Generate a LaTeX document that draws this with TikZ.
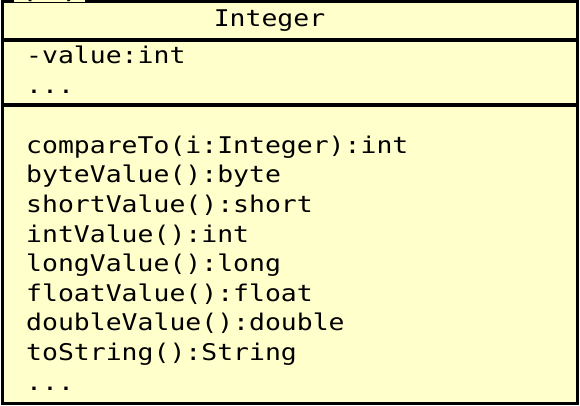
\documentclass[tikz,border=0pt]{standalone}
\usepackage{fontspec}
\newfontfamily\umlmono[FakeStretch=1.15]{DejaVu Sans Mono}
\definecolor{classyellow}{RGB}{255,255,204}

\begin{document}
\begin{tikzpicture}[x=1pt,y=-1pt]
  \tikzstyle{member}=[anchor=base west,inner sep=0pt,font=\umlmono\fontsize{23}{26}\selectfont]
  \tikzset{sep/.style = {line width=4pt}}
  \useasboundingbox (0,0) rectangle (580,406);
  % class box
  \draw[line width=3pt,fill=classyellow] (2,1.5) rectangle (577.5,403.5);
  \node[member,fill=classyellow,inner xsep=2pt,font=\umlmono\fontsize{32}{36}\selectfont] (tag) at (14,-2.5) {(1)};
  \node[member,anchor=base] (name) at (269.5,27) {Integer};
  \coordinate (s1w) at (2,39.7);   \coordinate (s1e) at (577.5,39.7);
  \coordinate (s2w) at (2,105.5);  \coordinate (s2e) at (577.5,105.5);
  \draw[sep] (s1w) -- (s1e);
  \draw[sep] (s2w) -- (s2e);
  % attributes
  \node[member] (a1) at (26,63.5) {-value:int};
  \node[member] (a2) at (26,93.5) {...};
  % operations
  \node[member] (o1) at (26,153.3) {compareTo(i:Integer):int};
  \node[member] (o2) at (26,182.9) {byteValue():byte};
  \node[member] (o3) at (26,212.5) {shortValue():short};
  \node[member] (o4) at (26,242.1) {intValue():int};
  \node[member] (o5) at (26,271.7) {longValue():long};
  \node[member] (o6) at (26,301.3) {floatValue():float};
  \node[member] (o7) at (26,330.9) {doubleValue():double};
  \node[member] (o8) at (26,360.5) {toString():String};
  \node[member] (o9) at (26,390.1) {...};
\end{tikzpicture}
\end{document}
